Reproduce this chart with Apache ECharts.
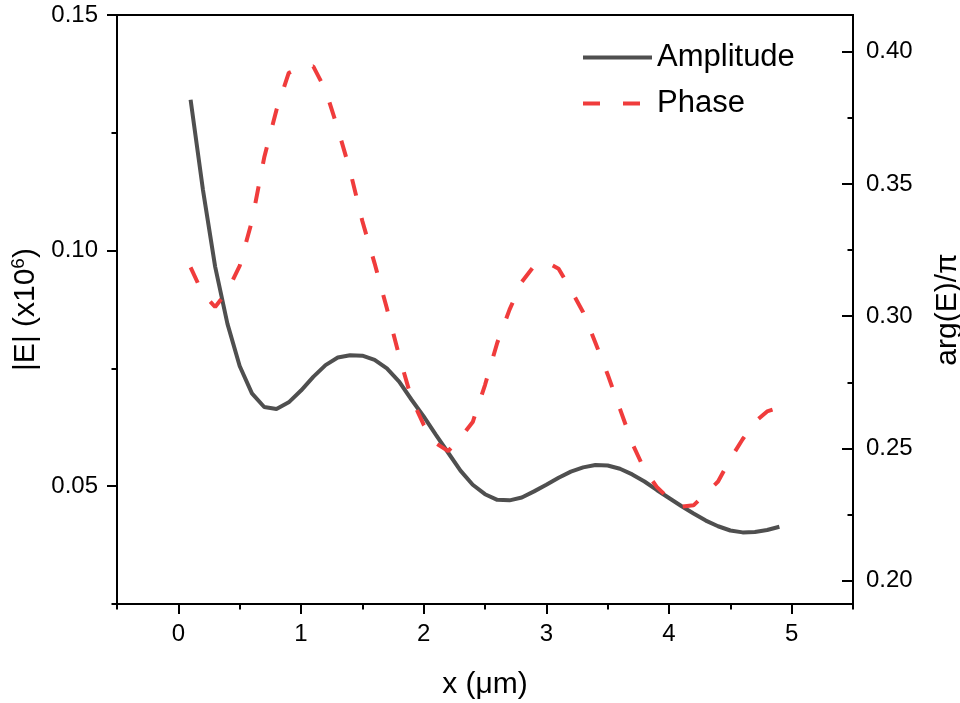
<!DOCTYPE html>
<html>
<head>
<meta charset="utf-8">
<script src="https://cdn.jsdelivr.net/npm/echarts@6/dist/echarts.min.js"></script>
<style>
html,body{margin:0;padding:0;background:#fff;}
#chart{width:960px;height:703px;}
</style>
</head>
<body>
<div id="chart"></div>
<script>
// x positions (µm)
var xValues = [0.1,0.2,0.3,0.4,0.5,0.6,0.7,0.8,0.9,1.0,
               1.1,1.2,1.3,1.4,1.5,1.6,1.7,1.8,1.9,2.0,
               2.1,2.2,2.3,2.4,2.5,2.6,2.7,2.8,2.9,3.0,
               3.1,3.2,3.3,3.4,3.5,3.6,3.7,3.8,3.9,4.0,
               4.1,4.2,4.3,4.4,4.5,4.6,4.7,4.8,4.9];
// |E| (x10^6)
var amplitude = [0.132,0.113,0.0966,0.0845,0.0755,0.0697,0.0668,0.0664,0.0678,0.0703,
                 0.0732,0.0757,0.0773,0.0778,0.0777,0.0768,0.0750,0.0722,0.0684,0.0648,
                 0.0609,0.0571,0.0533,0.0503,0.0483,0.0471,0.0470,0.0476,0.0489,0.0503,
                 0.0518,0.0531,0.0540,0.0545,0.0544,0.0537,0.0525,0.0510,0.0492,0.0475,
                 0.0458,0.0442,0.0427,0.0415,0.0406,0.0402,0.0403,0.0407,0.0414];
// arg(E)/pi
var phase = [0.3185,0.3085,0.3035,0.3095,0.319,0.336,0.360,0.378,0.392,0.394,
             0.3945,0.3855,0.371,0.355,0.336,0.320,0.303,0.285,0.269,0.259,
             0.252,0.249,0.254,0.260,0.274,0.290,0.3025,0.313,0.319,0.3205,
             0.318,0.310,0.3015,0.290,0.278,0.265,0.252,0.242,0.2355,0.231,
             0.228,0.2285,0.233,0.2375,0.246,0.2535,0.260,0.264,0.2655];

var xMajorTicks = [0,1,2,3,4,5];
var xMinorTicks = [-0.5,0.5,1.5,2.5,3.5,4.5,5.5];
var leftMajorTicks = [0.05,0.10,0.15];
var leftMinorTicks = [0.025,0.075,0.125];
var rightMajorTicks = [0.20,0.25,0.30,0.35,0.40];
var rightMinorTicks = [0.225,0.275,0.325,0.375];

var FONT = "'Liberation Sans', Arial, sans-serif";

function pairs(xs, ys){ return xs.map(function(x,i){ return [x, ys[i]]; }); }

var chart = echarts.init(document.getElementById('chart'), null, {renderer:'canvas'});
var axisLineStyle = {color:'#000', width:2};
var option = {
  backgroundColor:'#fff',
  animation:false,
  grid:{left:117, right:107, top:15, bottom:99, show:true, borderColor:'#000', borderWidth:2,
        containLabel:false, outerBoundsMode:'none'},
  legend:{
    orient:'vertical', left:581, top:42, padding:0,
    itemWidth:69, itemHeight:30, itemGap:15,
    itemStyle:{opacity:0},
    lineStyle:{width:4},
    textStyle:{fontSize:31, fontFamily:FONT, color:'#000'},
    data:['Amplitude','Phase']
  },
  xAxis:[{
    type:'value', min:-0.5, max:5.5, position:'bottom',
    name:'x (μm)', nameLocation:'middle', nameGap:66,
    nameTextStyle:{fontSize:30, fontFamily:FONT, color:'#000'},
    axisLine:{show:true, onZero:false, lineStyle:axisLineStyle},
    axisTick:{show:true, customValues:xMajorTicks, length:10, lineStyle:{color:'#000', width:2}},
    axisLabel:{show:true, customValues:xMajorTicks, margin:18, fontSize:24, fontFamily:FONT, color:'#000'},
    splitLine:{show:false}
  },{
    type:'value', min:-0.5, max:5.5, position:'bottom',
    axisLine:{show:false, onZero:false},
    axisTick:{show:true, customValues:xMinorTicks, length:5.5, lineStyle:{color:'#000', width:2}},
    axisLabel:{show:false},
    splitLine:{show:false}
  }],
  yAxis:[{
    type:'value', min:0.025, max:0.15, position:'left',
    name:'|E| (x10{sup|6})', nameLocation:'middle', nameGap:72,
    nameTextStyle:{fontSize:30, fontFamily:FONT, color:'#000',
      rich:{sup:{fontSize:19, fontFamily:FONT, color:'#000', verticalAlign:'bottom', padding:[0,0,14,0]}}},
    axisLine:{show:true, onZero:false, lineStyle:axisLineStyle},
    axisTick:{show:true, customValues:leftMajorTicks, length:10, lineStyle:{color:'#000', width:2}},
    axisLabel:{show:true, customValues:leftMajorTicks, margin:19, fontSize:24, fontFamily:FONT, color:'#000',
      formatter:function(v){ return v.toFixed(2); }},
    splitLine:{show:false}
  },{
    type:'value', min:0.1912, max:0.4139, position:'right',
    name:'arg(E)/π', nameLocation:'middle', nameGap:80,
    nameTextStyle:{fontSize:30, fontFamily:FONT, color:'#000'},
    axisLine:{show:true, onZero:false, lineStyle:axisLineStyle},
    axisTick:{show:true, inside:true, customValues:rightMajorTicks, length:11, lineStyle:{color:'#000', width:2}},
    axisLabel:{show:true, customValues:rightMajorTicks, margin:13, fontSize:24, fontFamily:FONT, color:'#000',
      formatter:function(v){ return v.toFixed(2); }},
    splitLine:{show:false}
  },{
    type:'value', min:0.025, max:0.15, position:'left',
    axisLine:{show:false, onZero:false},
    axisTick:{show:true, customValues:leftMinorTicks, length:5.5, lineStyle:{color:'#000', width:2}},
    axisLabel:{show:false},
    splitLine:{show:false}
  },{
    type:'value', min:0.1912, max:0.4139, position:'right',
    axisLine:{show:false, onZero:false},
    axisTick:{show:true, inside:true, customValues:rightMinorTicks, length:5.5, lineStyle:{color:'#000', width:2}},
    axisLabel:{show:false},
    splitLine:{show:false}
  }],
  series:[{
    name:'Amplitude', type:'line', xAxisIndex:0, yAxisIndex:0,
    data:pairs(xValues, amplitude), showSymbol:false, symbol:'none', smooth:false,
    lineStyle:{color:'#4f4f4f', width:4}, itemStyle:{color:'#4f4f4f'}
  },{
    name:'Phase', type:'line', xAxisIndex:0, yAxisIndex:1,
    data:pairs(xValues, phase), showSymbol:false, symbol:'none', smooth:false,
    lineStyle:{color:'#f03c3c', width:4, type:[17,23]}, itemStyle:{color:'#f03c3c'}
  }]
};
chart.setOption(option);
</script>
</body>
</html>
